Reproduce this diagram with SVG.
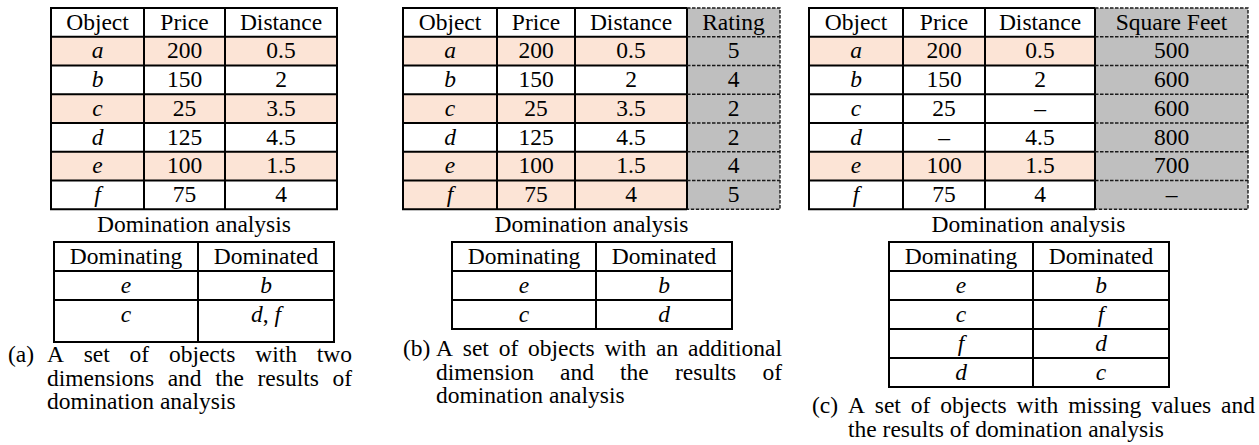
<svg xmlns="http://www.w3.org/2000/svg" width="1259" height="445" viewBox="0 0 1259 445">
  <style>
    text { font-family: "Liberation Serif", "Times New Roman", serif; font-size: 23.5px; fill: #000; }
    .c { text-anchor: middle; }
    .e { text-anchor: end; }
    .i { font-style: italic; }
    .pink { fill: #fce4d6; }
    .gray { fill: #bfbfbf; }
    .grid { fill: none; stroke: #000; stroke-width: 2; }
    .dash { fill: none; stroke: #1a1a1a; stroke-width: 1.4; stroke-dasharray: 3.5 1.5; }
  </style>

  <!-- (a) two-dimensional object table -->
  <g id="table-a">
    <rect class="pink" x="51" y="36.75" width="286" height="28.75"/>
    <rect class="pink" x="51" y="94.25" width="286" height="28.75"/>
    <rect class="pink" x="51" y="151.75" width="286" height="28.75"/>
    <path class="grid" d="M51 8H337V209.25H51Z M144 8V209.25 M225 8V209.25 M51 36.75H337 M51 65.5H337 M51 94.25H337 M51 123H337 M51 151.75H337 M51 180.5H337"/>
    <g class="c">
      <text x="97.5" y="29.5">Object</text><text x="184.5" y="29.5">Price</text><text x="281" y="29.5">Distance</text>
      <text class="i" x="97.5" y="58.25">a</text><text x="184.5" y="58.25">200</text><text x="281" y="58.25">0.5</text>
      <text class="i" x="97.5" y="87">b</text><text x="184.5" y="87">150</text><text x="281" y="87">2</text>
      <text class="i" x="97.5" y="115.75">c</text><text x="184.5" y="115.75">25</text><text x="281" y="115.75">3.5</text>
      <text class="i" x="97.5" y="144.5">d</text><text x="184.5" y="144.5">125</text><text x="281" y="144.5">4.5</text>
      <text class="i" x="97.5" y="173.25">e</text><text x="184.5" y="173.25">100</text><text x="281" y="173.25">1.5</text>
      <text class="i" x="97.5" y="202">f</text><text x="184.5" y="202">75</text><text x="281" y="202">4</text>
    </g>
  </g>
  <g id="dom-a">
    <text class="c" x="194" y="232">Domination analysis</text>
    <path class="grid" d="M54 242H334V342H54Z M198 242V342 M54 271H334 M54 300H334"/>
    <g class="c">
      <text x="126" y="264">Dominating</text><text x="266" y="264">Dominated</text>
      <text class="i" x="126" y="293">e</text><text class="i" x="266" y="293">b</text>
      <text class="i" x="126" y="322">c</text><text x="266" y="322"><tspan class="i">d</tspan>, <tspan class="i">f</tspan></text>
    </g>
  </g>
  <!-- justified caption: one text per word -->
  <g id="caption-a">
    <text x="8" y="362">(a)</text>
    <text x="47" y="362">A</text><text x="83.7" y="362">set</text><text x="129.6" y="362">of</text><text x="168.9" y="362">objects</text><text x="255.2" y="362">with</text><text class="e" x="352" y="362">two</text>
    <text x="47" y="385.5">dimensions</text><text x="167.7" y="385.5">and</text><text x="215.2" y="385.5">the</text><text x="257.5" y="385.5">results</text><text class="e" x="352" y="385.5">of</text>
    <text x="47" y="409">domination analysis</text>
  </g>

  <!-- (b) table with an added Rating column -->
  <g id="table-b">
    <rect class="pink" x="403" y="36.75" width="284" height="28.75"/>
    <rect class="pink" x="403" y="94.25" width="284" height="28.75"/>
    <rect class="pink" x="403" y="151.75" width="284" height="57.5"/>
    <rect class="gray" x="687" y="8" width="93" height="201.25"/>
    <path class="grid" d="M687 8H403V209.25H687 M687 8V209.25 M497 8V209.25 M575 8V209.25 M403 36.75H687 M403 65.5H687 M403 94.25H687 M403 123H687 M403 151.75H687 M403 180.5H687"/>
    <path class="dash" d="M687 8H780V209.25H687 M687 36.75H780 M687 65.5H780 M687 94.25H780 M687 123H780 M687 151.75H780 M687 180.5H780"/>
    <g class="c">
      <text x="450" y="29.5">Object</text><text x="536" y="29.5">Price</text><text x="631" y="29.5">Distance</text><text x="733.5" y="29.5">Rating</text>
      <text class="i" x="450" y="58.25">a</text><text x="536" y="58.25">200</text><text x="631" y="58.25">0.5</text><text x="733.5" y="58.25">5</text>
      <text class="i" x="450" y="87">b</text><text x="536" y="87">150</text><text x="631" y="87">2</text><text x="733.5" y="87">4</text>
      <text class="i" x="450" y="115.75">c</text><text x="536" y="115.75">25</text><text x="631" y="115.75">3.5</text><text x="733.5" y="115.75">2</text>
      <text class="i" x="450" y="144.5">d</text><text x="536" y="144.5">125</text><text x="631" y="144.5">4.5</text><text x="733.5" y="144.5">2</text>
      <text class="i" x="450" y="173.25">e</text><text x="536" y="173.25">100</text><text x="631" y="173.25">1.5</text><text x="733.5" y="173.25">4</text>
      <text class="i" x="450" y="202">f</text><text x="536" y="202">75</text><text x="631" y="202">4</text><text x="733.5" y="202">5</text>
    </g>
  </g>
  <g id="dom-b">
    <text class="c" x="591.5" y="232">Domination analysis</text>
    <path class="grid" d="M452 242H732V329H452Z M596 242V329 M452 271H732 M452 300H732"/>
    <g class="c">
      <text x="524" y="264">Dominating</text><text x="664" y="264">Dominated</text>
      <text class="i" x="524" y="293">e</text><text class="i" x="664" y="293">b</text>
      <text class="i" x="524" y="322">c</text><text class="i" x="664" y="322">d</text>
    </g>
  </g>
  <g id="caption-b">
    <text x="403" y="356">(b)</text>
    <text x="436" y="356">A</text><text x="462.8" y="356">set</text><text x="498.7" y="356">of</text><text x="528.1" y="356">objects</text><text x="604.4" y="356">with</text><text x="656" y="356">an</text><text class="e" x="782" y="356">additional</text>
    <text x="436" y="379.5">dimension</text><text x="560" y="379.5">and</text><text x="620.1" y="379.5">the</text><text x="674.9" y="379.5">results</text><text class="e" x="782" y="379.5">of</text>
    <text x="436" y="403">domination analysis</text>
  </g>

  <!-- (c) table with missing values and a Square Feet column -->
  <g id="table-c">
    <rect class="pink" x="809" y="36.75" width="286" height="28.75"/>
    <rect class="pink" x="809" y="151.75" width="286" height="28.75"/>
    <rect class="gray" x="1095" y="8" width="153" height="201.25"/>
    <path class="grid" d="M1095 8H809V209.25H1095 M1095 8V209.25 M903 8V209.25 M985 8V209.25 M809 36.75H1095 M809 65.5H1095 M809 94.25H1095 M809 123H1095 M809 151.75H1095 M809 180.5H1095"/>
    <path class="dash" d="M1095 8H1248V209.25H1095 M1095 36.75H1248 M1095 65.5H1248 M1095 94.25H1248 M1095 123H1248 M1095 151.75H1248 M1095 180.5H1248"/>
    <g class="c">
      <text x="856" y="29.5">Object</text><text x="944" y="29.5">Price</text><text x="1040" y="29.5">Distance</text><text x="1171.5" y="29.5">Square Feet</text>
      <text class="i" x="856" y="58.25">a</text><text x="944" y="58.25">200</text><text x="1040" y="58.25">0.5</text><text x="1171.5" y="58.25">500</text>
      <text class="i" x="856" y="87">b</text><text x="944" y="87">150</text><text x="1040" y="87">2</text><text x="1171.5" y="87">600</text>
      <text class="i" x="856" y="115.75">c</text><text x="944" y="115.75">25</text><text x="1040" y="115.75">–</text><text x="1171.5" y="115.75">600</text>
      <text class="i" x="856" y="144.5">d</text><text x="944" y="144.5">–</text><text x="1040" y="144.5">4.5</text><text x="1171.5" y="144.5">800</text>
      <text class="i" x="856" y="173.25">e</text><text x="944" y="173.25">100</text><text x="1040" y="173.25">1.5</text><text x="1171.5" y="173.25">700</text>
      <text class="i" x="856" y="202">f</text><text x="944" y="202">75</text><text x="1040" y="202">4</text><text x="1171.5" y="202">–</text>
    </g>
  </g>
  <g id="dom-c">
    <text class="c" x="1028.5" y="232">Domination analysis</text>
    <path class="grid" d="M889 242H1169V387H889Z M1033 242V387 M889 271H1169 M889 300H1169 M889 329H1169 M889 358H1169"/>
    <g class="c">
      <text x="961" y="264">Dominating</text><text x="1101" y="264">Dominated</text>
      <text class="i" x="961" y="293">e</text><text class="i" x="1101" y="293">b</text>
      <text class="i" x="961" y="322">c</text><text class="i" x="1101" y="322">f</text>
      <text class="i" x="961" y="351">f</text><text class="i" x="1101" y="351">d</text>
      <text class="i" x="961" y="380">d</text><text class="i" x="1101" y="380">c</text>
    </g>
  </g>
  <g id="caption-c">
    <text x="812" y="413">(c)</text>
    <text x="848" y="413">A</text><text x="874.8" y="413">set</text><text x="910.8" y="413">of</text><text x="940.2" y="413">objects</text><text x="1016.6" y="413">with</text><text x="1068.2" y="413">missing</text><text x="1151.2" y="413">values</text><text class="e" x="1255" y="413">and</text>
    <text x="848" y="436.5">the results of domination analysis</text>
  </g>
</svg>
